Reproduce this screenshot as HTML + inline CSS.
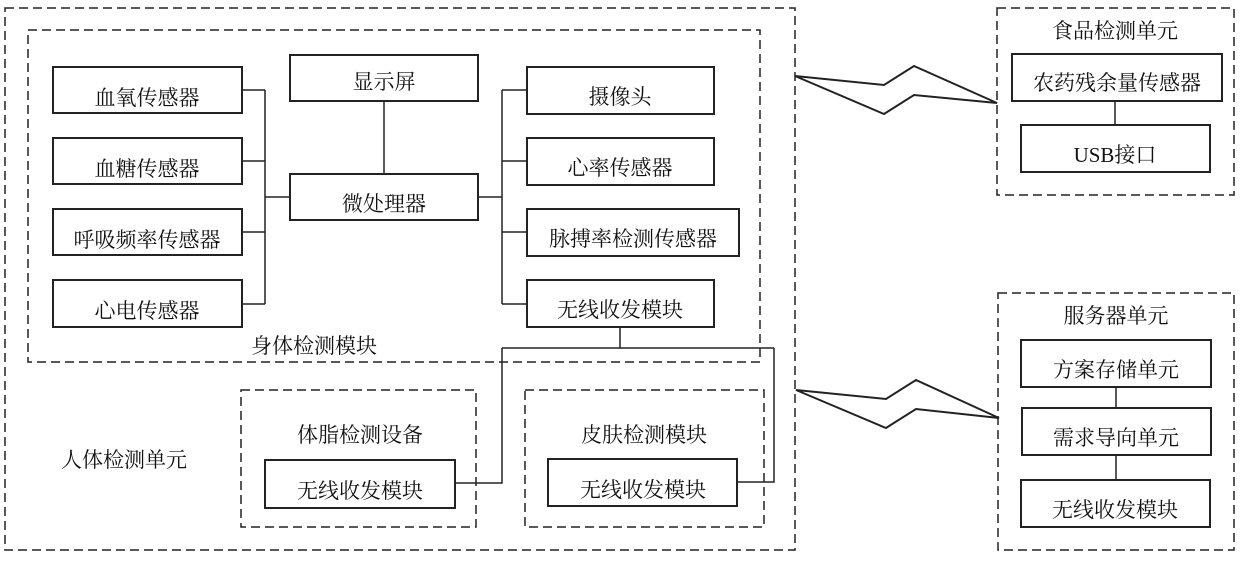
<!DOCTYPE html>
<html><head><meta charset="utf-8"><style>
body{margin:0;background:#fff}
svg text{font-family:"Liberation Serif","Noto Serif CJK SC","Noto Sans CJK SC",serif;font-size:21px;fill:#111}
</style></head><body>
<svg width="1240" height="557" viewBox="0 0 1240 557" xmlns="http://www.w3.org/2000/svg">
<g fill="none" stroke="#222" stroke-width="1.5" stroke-dasharray="9,5">
<rect x="5" y="8" width="790" height="542"/>
<rect x="28" y="30" width="732" height="332"/>
<rect x="241" y="390" width="235" height="137"/>
<rect x="525" y="390" width="239" height="137"/>
<rect x="997" y="8" width="237" height="187"/>
<rect x="998" y="293" width="236" height="257"/>
</g>
<g fill="none" stroke="#222" stroke-width="2">
<rect x="53" y="67" width="189" height="46"/>
<rect x="53" y="138" width="189" height="46"/>
<rect x="53" y="209" width="189" height="46"/>
<rect x="53" y="280" width="189" height="47"/>
<rect x="290" y="55" width="188" height="46"/>
<rect x="290" y="174" width="188" height="46"/>
<rect x="527" y="67" width="187" height="47"/>
<rect x="527" y="138" width="187" height="47"/>
<rect x="527" y="209" width="212" height="47"/>
<rect x="527" y="280" width="187" height="47"/>
<rect x="265" y="460" width="190" height="48"/>
<rect x="548" y="459" width="189" height="47"/>
<rect x="1012" y="54" width="210" height="47"/>
<rect x="1021" y="125" width="189" height="47"/>
<rect x="1021" y="340" width="190" height="47"/>
<rect x="1022" y="408" width="189" height="47"/>
<rect x="1021" y="480" width="189" height="47"/>
</g>
<g fill="none" stroke="#222" stroke-width="1.5">
<path d="M242 90H265M242 161H265M242 232H265M242 304H265M265 90V304M265 197H290"/>
<path d="M384 101V174"/>
<path d="M478 197H502M502 90V304M502 90H527M502 161H527M502 232H527M502 304H527"/>
<path d="M620 327V348M502 348H774M502 348V483H455M774 348V482H737"/>
<path d="M1115 101V125M1116 387V408M1116 455V480"/>
<path d="M795 76L884 85L914 66L997 103L914 95L884 114Z" stroke-width="2"/>
<path d="M796 390L886 399L916 380L999 418L916 409L886 428Z" stroke-width="2"/>
</g>
<g text-anchor="middle">
<text x="147" y="105">血氧传感器</text>
<text x="147" y="176">血糖传感器</text>
<text x="147" y="247">呼吸频率传感器</text>
<text x="147" y="318">心电传感器</text>
<text x="384" y="89">显示屏</text>
<text x="384" y="211">微处理器</text>
<text x="620" y="104">摄像头</text>
<text x="620" y="175">心率传感器</text>
<text x="633" y="246">脉搏率检测传感器</text>
<text x="620" y="317">无线收发模块</text>
<text x="314" y="353">身体检测模块</text>
<text x="360" y="442">体脂检测设备</text>
<text x="360" y="498">无线收发模块</text>
<text x="644" y="442">皮肤检测模块</text>
<text x="643" y="497">无线收发模块</text>
<text x="124" y="467">人体检测单元</text>
<text x="1115" y="38">食品检测单元</text>
<text x="1117" y="90">农药残余量传感器</text>
<text x="1115" y="162">USB接口</text>
<text x="1116" y="323">服务器单元</text>
<text x="1116" y="377">方案存储单元</text>
<text x="1116" y="445">需求导向单元</text>
<text x="1115" y="517">无线收发模块</text>
</g>
</svg>
</body></html>
